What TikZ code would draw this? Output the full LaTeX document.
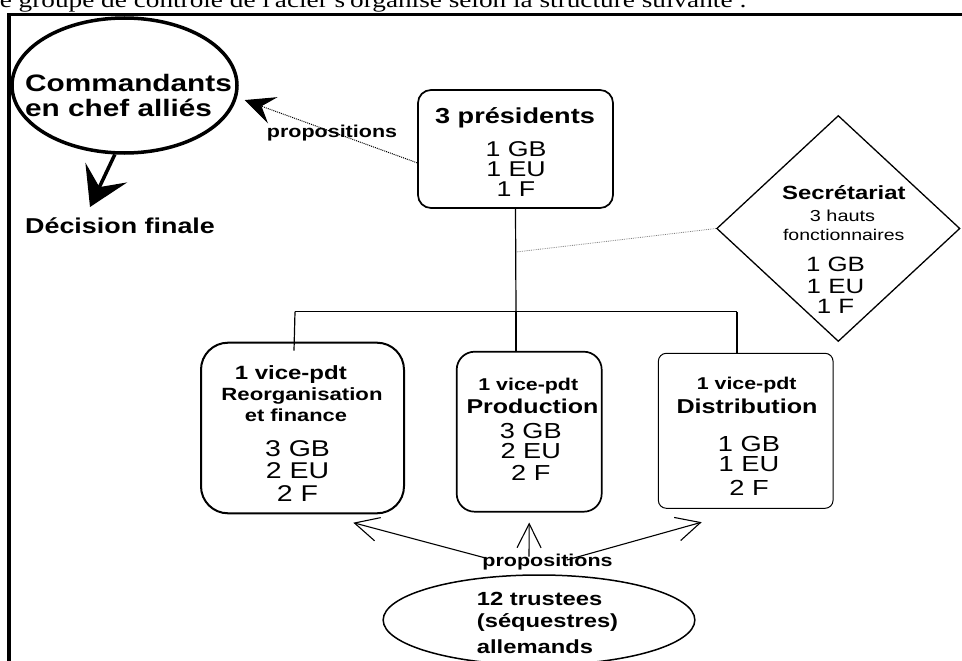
\documentclass[tikz,border=0pt]{standalone}
\usepackage{fontspec}
\setmainfont{Liberation Sans}[FakeStretch=1.25]
\newfontfamily\introfont{Liberation Serif}[FakeStretch=1.25]
\usetikzlibrary{shapes.geometric,arrows.meta,calc}
\newcommand\myfs[1]{\fontsize{#1pt}{#1pt}\selectfont}
\begin{document}
\begin{tikzpicture}[x=1pt,y=-1pt,
  t/.style={inner sep=0pt, anchor=base},
  tl/.style={inner sep=0pt, anchor=base west},
  rbox/.style={draw, inner sep=0pt, line width=1.7pt},
  conn/.style={line width=1.2pt},
  proparrow/.style={line width=1.1pt, -{Straight Barb[length=24pt,width=24pt,line width=1.1pt]}},
  bigb/.style={font={\bfseries\myfs{#1}}},
  reg/.style={font={\myfs{#1}}},
]
\useasboundingbox (0,0) rectangle (962,661);
\clip (0,0) rectangle (962,661);
\fill[white] (0,0) rectangle (962,661);

% intro line (cut at top, as in the reference)
\node[tl, font={\introfont\myfs{21.8}}] (intro) at (-17,7.5) {Le groupe de contrôle de l'acier s'organise selon la structure suivante :};

% frame
\draw[line width=3.5pt] (9.2,700) -- (9.2,14.3) -- (980,14.3);

% shapes
\node[draw, ellipse, line width=3.5pt, minimum width=225pt, minimum height=135pt, inner sep=0pt] (cmd) at (124.5,85.5) {};
\node[rbox, rounded corners=13pt, minimum width=195pt, minimum height=118pt] (pres) at (515.5,149) {};
\node[draw, diamond, line width=1.3pt, minimum width=243.3pt, minimum height=226pt, inner sep=0pt] (sec) at (838.3,228.5) {};
\node[rbox, line width=2pt, rounded corners=27pt, minimum width=203pt, minimum height=170.6pt] (reorg) at (302.5,428) {};
\node[rbox, rounded corners=18pt, minimum width=145pt, minimum height=160pt] (prod) at (529.2,431.7) {};
\node[rbox, line width=1pt, rounded corners=8pt, minimum width=174.7pt, minimum height=155pt] (dist) at (745.7,430.8) {};
\node[draw, ellipse, line width=1.5pt, minimum width=311.7pt, minimum height=90pt, inner sep=0pt] (trust) at (539,620) {};

% texts
\node[tl, bigb=23.8] (cmdA) at (25,92) {Commandants};
\node[tl, bigb=23.8] (cmdB) at (25,117) {en chef alliés};
\node[tl, bigb=21.5] (dec) at (25,233) {Décision finale};
\node[t, bigb=17.2] (propA) at (332,138) {propositions};

\node[t, bigb=21.7] (presA) at (515,124) {3 présidents};
\node[t, reg=21.4] (presB) at (516,156.7) {1 GB};
\node[t, reg=21.4] (presC) at (516,176.7) {1 EU};
\node[t, reg=21.4] (presD) at (516,196.7) {1 F};

\node[t, bigb=19.1] (secA) at (843.8,199.3) {Secrétariat};
\node[t, reg=15.9] (secB) at (842.5,221.7) {3 hauts};
\node[t, reg=15.6] (secC) at (843.7,240) {fonctionnaires};
\node[t, reg=20.7] (secD) at (835.5,271.7) {1 GB};
\node[t, reg=20.7] (secE) at (835.5,293.3) {1 EU};
\node[t, reg=20.7] (secF) at (835.5,313.3) {1 F};

\node[t, bigb=19.2] (rA) at (290.8,379) {1 vice-pdt};
\node[t, bigb=17.7] (rB) at (302,400) {Reorganisation};
\node[t, bigb=17.5] (rC) at (296,421.7) {et finance};
\node[t, reg=22.8] (rD) at (297.5,456.7) {3 GB};
\node[t, reg=22.8] (rE) at (297.5,478.3) {2 EU};
\node[t, reg=22.8] (rF) at (297.5,501.7) {2 F};

\node[t, bigb=17.1] (pA) at (528.3,390) {1 vice-pdt};
\node[t, bigb=20] (pB) at (532.5,413.3) {Production};
\node[t, reg=21.7] (pC) at (530.8,438.3) {3 GB};
\node[t, reg=21.7] (pD) at (530.8,458.3) {2 EU};
\node[t, reg=21.7] (pE) at (530.8,480) {2 F};

\node[t, bigb=17.1] (dA) at (746.7,389.3) {1 vice-pdt};
\node[t, bigb=20.1] (dB) at (747,413.3) {Distribution};
\node[t, reg=21.8] (dC) at (749,451.7) {1 GB};
\node[t, reg=21.8] (dD) at (749,471.7) {1 EU};
\node[t, reg=21.8] (dE) at (749,495) {2 F};

\node[tl, bigb=19] (trA) at (476.7,605) {12 trustees};
\node[tl, bigb=19] (trB) at (476.7,627) {(séquestres)};
\node[tl, bigb=19] (trC) at (476.7,653.3) {allemands};
\node[t, bigb=17.2] (propB) at (547.5,566.7) {propositions};

% tree connectors
\coordinate (hub) at (516,311.7);
\coordinate (jL) at (295,311.7);
\coordinate (jR) at (737,311.7);
\coordinate (trunkpt) at (516,252);
\draw[conn] (pres.south) -- (hub);
\draw[conn] (jL) -- (jR);
\draw[conn] (jL) -- ($(reorg.north west)+(94,9)$);
\draw[conn] (hub) -- (hub |- prod.north);
\draw[conn] (jR) -- (jR |- dist.north);
\draw[gray, densely dotted, line width=0.8pt] (sec.west) -- (trunkpt);

% propositions to commanders
\draw[densely dotted, line width=1pt, shorten >=8pt, -{Stealth[length=30pt,width=28pt,inset=12pt]}] (pres.188) -- (cmd.-6);
% decision arrow
\coordinate (decTip) at (90,207);
\draw[line width=3.5pt, -{Stealth[length=38pt,width=46pt,inset=16pt]}] (cmd.262) -- (decTip);

% trustees propositions
\coordinate (sL) at (486.7,558.3);
\coordinate (sM) at (529,556.7);
\coordinate (sR) at (566.7,560);
\draw[proparrow] (sL) -- ($(reorg.south)+(50.8,8.4)$);
\draw[proparrow] (sM) -- ($(prod.south)+(0,10)$);
\draw[proparrow] (sR) -- ($(dist.south)+(-44,13.4)$);
\end{tikzpicture}
\end{document}
